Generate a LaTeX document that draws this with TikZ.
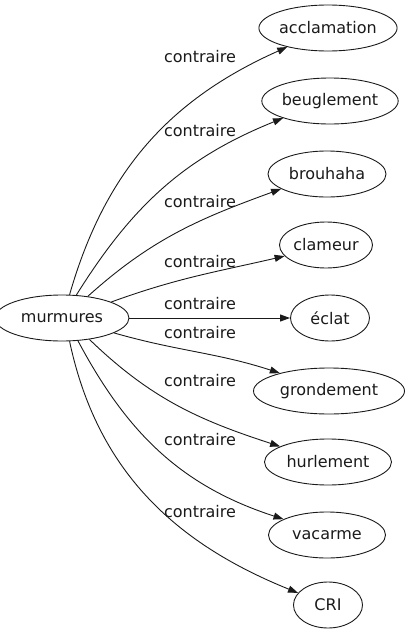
\documentclass[tikz,border=0pt]{standalone}
\usepackage{fontspec}
\setmainfont{DejaVu Sans}
\usepackage{xcolor}
\usepackage{tikz}
\usetikzlibrary{arrows.meta,shapes.geometric,positioning}
\definecolor{inkmain}{HTML}{1A1A1A}
\tikzset{every node/.append style={font=\fontsize{16}{18}\selectfont}}
\tikzset{
  term/.style={ellipse,draw=inkmain,line width=0.9pt,text=inkmain,inner xsep=0pt,inner ysep=0pt,minimum height=46pt},
  lbl/.style={text=inkmain},
  rel/.style={->,draw=inkmain,line width=0.9pt}
}

\begin{document}
\begin{tikzpicture}[x=1pt,y=1pt,>={Triangle[length=10pt,width=7pt]}]
  \useasboundingbox (0,0) rectangle (413,-635);
  \node[term,minimum width=134pt] (murm) at (62,-318) {murmures};
  \node[term,minimum width=135pt] (accl) at (328,-28) {acclamation};
  \node[term,minimum width=134pt] (beug) at (330,-101) {beuglement};
  \node[term,minimum width=118pt] (brou) at (327,-174) {brouhaha};
  \node[term,minimum width=93pt] (clam) at (326,-245) {clameur};
  \node[term,minimum width=79pt] (ecla) at (330,-318) {éclat};
  \node[term,minimum width=151pt] (gron) at (329,-391) {grondement};
  \node[term,minimum width=127pt] (hurl) at (328,-462) {hurlement};
  \node[term,minimum width=117pt] (vaca) at (327,-535) {vacarme};
  \node[term,minimum width=69pt] (cri) at (328,-605) {CRI};
  % edges
  \draw[rel] (murm.72) to[out=74,in=204] (accl.205);
  \draw[rel] (murm.58) to[out=58,in=202] (beug.200);
  \draw[rel] (murm.40) to[out=42,in=200] (brou.198);
  \draw[rel] (murm.18) to[out=20,in=193] (clam.195);
  \draw[rel] (murm) -- (ecla);
  \draw[rel] (murm.-16) to[out=-16,in=162] (gron.160);
  \draw[rel] (murm.-38) to[out=-44,in=162] (hurl.162);
  \draw[rel] (murm.-55) to[out=-62,in=162] (vaca.160);
  \draw[rel] (murm.-72) to[out=-78,in=158] (cri.158);
  % labels
  \node[lbl] at (200,-57) {contraire};
  \node[lbl] at (200,-131) {contraire};
  \node[lbl] at (200,-202) {contraire};
  \node[lbl] at (200,-262) {contraire};
  \node[lbl] at (200,-304) {contraire};
  \node[lbl] at (200,-333) {contraire};
  \node[lbl] at (200,-381) {contraire};
  \node[lbl] at (200,-440) {contraire};
  \node[lbl] at (200,-512) {contraire};
\end{tikzpicture}
\end{document}
